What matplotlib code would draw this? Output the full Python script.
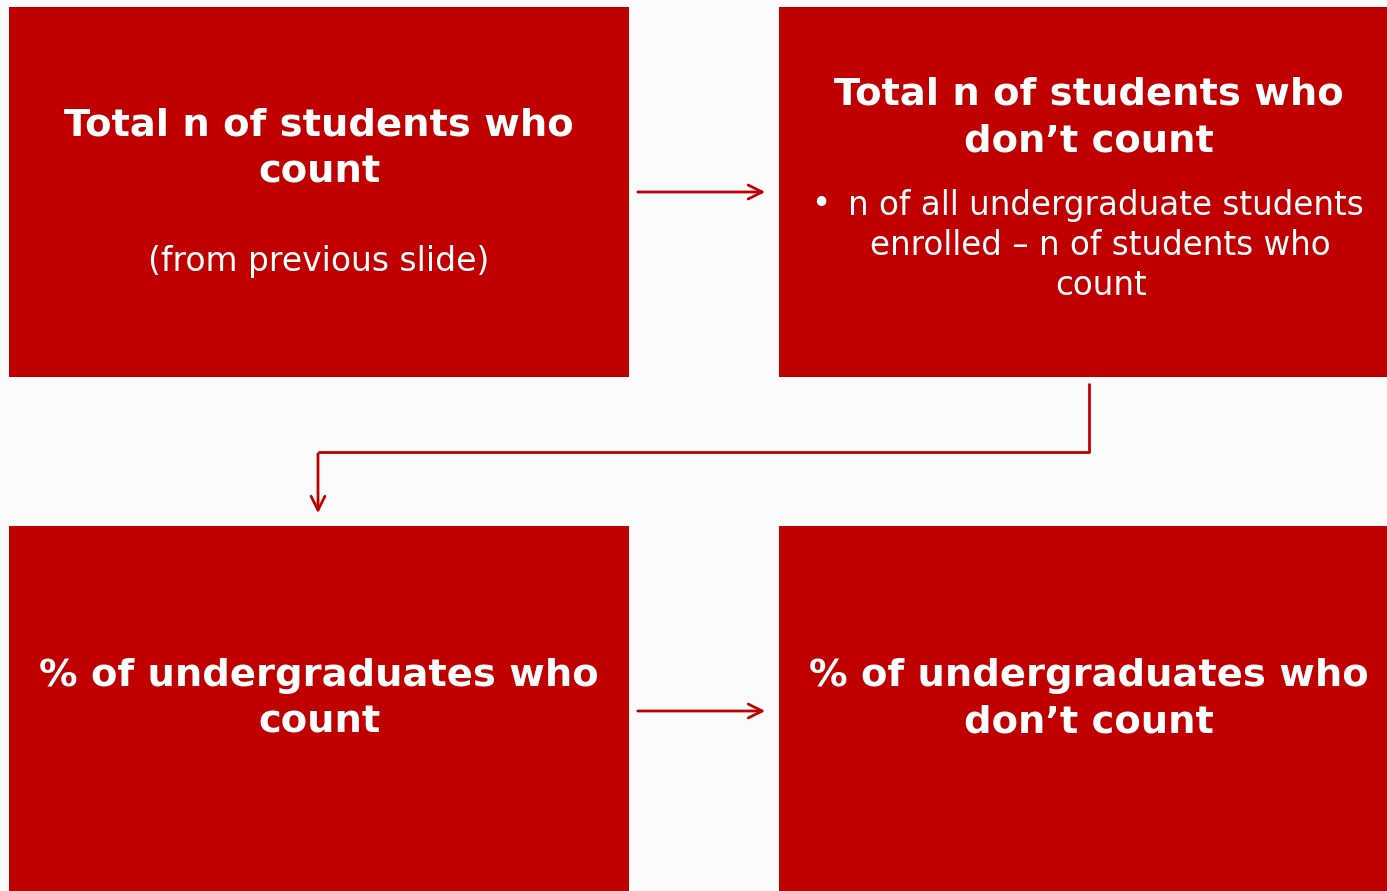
import matplotlib.pyplot as plt
from matplotlib.patches import Rectangle

# text content of the four boxes
titles = [
    "Total n of students who\ncount",
    "Total n of students who\ndon\u2019t count",
    "% of undergraduates who\ncount",
    "% of undergraduates who\ndon\u2019t count",
]
subtitle = "(from previous slide)"
bullet_lines = ["n of all undergraduate students", "enrolled \u2013 n of students who", "count"]

RED = "#c00000"
W, H = 1387, 891

fig = plt.figure(figsize=(W / 100, H / 100), dpi=100)
fig.patch.set_facecolor("#fbfbfb")
ax = fig.add_axes([0, 0, 1, 1])
ax.set_xlim(0, W)
ax.set_ylim(H, 0)
ax.axis("off")

# boxes (x, y, w, h) in pixel coords
boxes = [(9, 7, 620, 370), (779, 7, 610, 370), (9, 526, 620, 367), (779, 526, 610, 367)]
for (x, y, w, h) in boxes:
    ax.add_patch(Rectangle((x, y), w, h, facecolor=RED, edgecolor="none"))

bold = dict(color="white", fontsize=27.7, fontweight="bold", ha="center", va="center",
            family="DejaVu Sans", linespacing=1.38)

ax.text(319, 149, titles[0], **bold)
ax.text(1089, 118, titles[1], **bold)
ax.text(319, 699, titles[2], **bold)
ax.text(1089, 699, titles[3], **bold)

ax.text(319, 262, subtitle, color="white", fontsize=23.8, ha="center", va="center")

reg = dict(color="white", fontsize=23.5, ha="center", va="baseline")
ax.text(821, 214, "\u2022", **reg)
ax.text(1106, 215, bullet_lines[0], **reg)
ax.text(1100, 255, bullet_lines[1], **reg)
ax.text(1101, 295, bullet_lines[2], **reg)

arrow = dict(arrowstyle="->,head_length=1.0,head_width=0.5", color=RED, lw=2)
ax.annotate("", xy=(768, 192), xytext=(635, 192), arrowprops=arrow)
ax.annotate("", xy=(768, 711), xytext=(635, 711), arrowprops=arrow)

# elbow connector
ax.plot([1089, 1089, 318], [383, 452, 452], color=RED, lw=2, solid_capstyle="butt")
ax.annotate("", xy=(318, 516), xytext=(318, 451), arrowprops=arrow)

fig.savefig("out.png", dpi=100, facecolor=fig.get_facecolor())
